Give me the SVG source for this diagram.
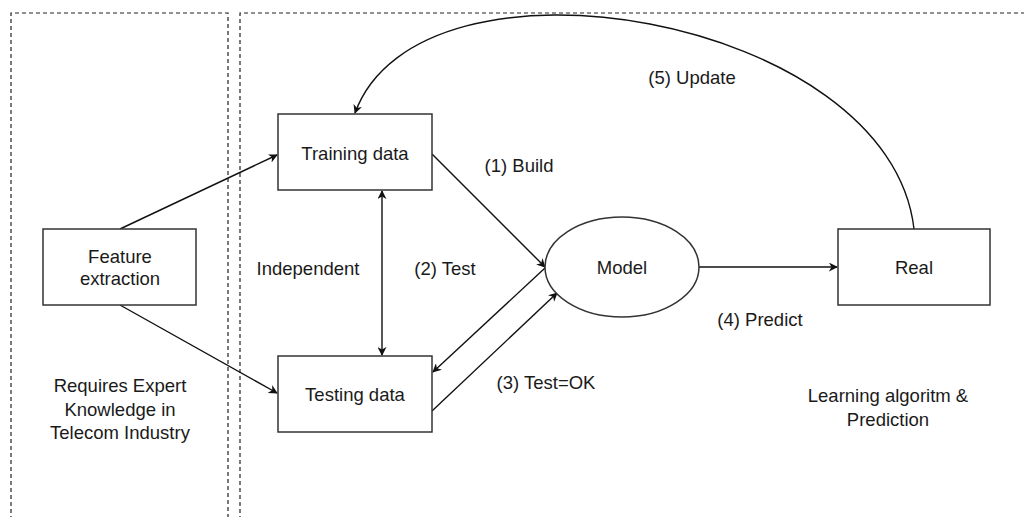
<svg xmlns="http://www.w3.org/2000/svg" width="1024" height="517" viewBox="0 0 1024 517">
<style>
.box{fill:#fff;stroke:#333;stroke-width:1.5}
.dash{fill:none;stroke:#222;stroke-width:1.2;stroke-dasharray:4,3}
.t{font-family:"Liberation Sans",Arial,sans-serif;font-size:18.5px;fill:#1a1a1a;text-anchor:middle;dominant-baseline:central}
.c{fill:none;stroke:#111;stroke-width:1.4}
</style>
<defs>
<marker id="ah" viewBox="0 0 10 10" refX="9" refY="5" markerWidth="9" markerHeight="9" markerUnits="userSpaceOnUse" orient="auto-start-reverse">
<path d="M0,0 L10,5 L0,10 L3,5 Z" fill="#111"/>
</marker>
</defs>
<rect width="1024" height="517" fill="#fff"/>
<g id="regions">
<path class="dash" d="M11,520 V13 H228 V520"/>
<path class="dash" d="M240,520 V13 H1030"/>
</g>
<g id="connectors">
<line class="c" x1="120" y1="229" x2="277" y2="155" marker-end="url(#ah)"/>
<line class="c" x1="120" y1="305" x2="277" y2="393" marker-end="url(#ah)"/>
<line class="c" x1="432" y1="154" x2="545" y2="267" marker-end="url(#ah)"/>
<line class="c" x1="382" y1="191" x2="382" y2="355" marker-start="url(#ah)" marker-end="url(#ah)"/>
<line class="c" x1="545" y1="268" x2="433" y2="372" marker-end="url(#ah)"/>
<line class="c" x1="432" y1="411" x2="557" y2="293" marker-end="url(#ah)"/>
<line class="c" x1="698" y1="267" x2="837" y2="267" marker-end="url(#ah)"/>
<path class="c" d="M914,229 C890,15 420,-65 355,113" marker-end="url(#ah)"/>
</g>
<g id="feature"><rect class="box" x="43" y="229" width="153" height="76"/><text class="t" x="120" y="256">Feature</text><text class="t" x="120" y="278">extraction</text></g>
<g id="training"><rect class="box" x="278" y="114" width="154" height="76"/><text class="t" x="355" y="153">Training data</text></g>
<g id="testing"><rect class="box" x="278" y="356" width="154" height="76"/><text class="t" x="355" y="394">Testing data</text></g>
<g id="model"><ellipse class="box" cx="622" cy="267" rx="77" ry="50"/><text class="t" x="622" y="267">Model</text></g>
<g id="real"><rect class="box" x="838" y="229" width="152" height="76"/><text class="t" x="914" y="267">Real</text></g>
<g id="labels">
<text class="t" x="519" y="165">(1) Build</text>
<text class="t" x="308" y="268">Independent</text>
<text class="t" x="445" y="268">(2) Test</text>
<text class="t" x="546" y="382">(3) Test=OK</text>
<text class="t" x="760" y="319">(4) Predict</text>
<text class="t" x="692" y="77">(5) Update</text>
<text class="t" x="888" y="395">Learning algoritm &amp;</text>
<text class="t" x="888" y="419">Prediction</text>
<text class="t" x="120" y="385">Requires Expert</text>
<text class="t" x="120" y="409">Knowledge in</text>
<text class="t" x="120" y="432">Telecom Industry</text>
</g>
</svg>
